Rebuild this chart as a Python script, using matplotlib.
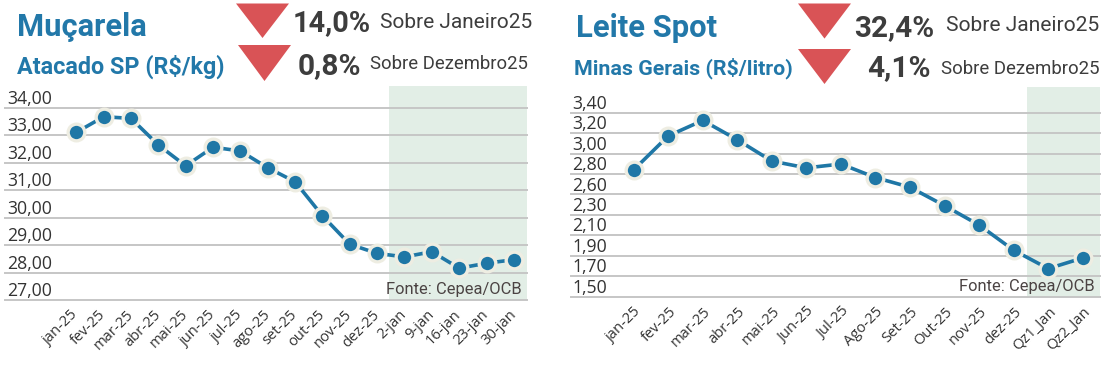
import matplotlib
matplotlib.use("Agg")
import matplotlib.pyplot as plt
from matplotlib.patches import Polygon
from matplotlib.transforms import ScaledTranslation
import numpy as np

# ---------------- data ----------------
muc_labels = ["jan-25", "fev-25", "mar-25", "abr-25", "mai-25", "jun-25", "jul-25",
              "ago-25", "set-25", "out-25", "nov-25", "dez-25",
              "2-jan", "9-jan", "16-jan", "23-jan", "30-jan"]
muc_values = [33.11, 33.68, 33.62, 32.65, 31.89, 32.57, 32.43, 31.82, 31.31,
              30.07, 29.03, 28.70, 28.57, 28.76, 28.16, 28.34, 28.47]
muc_yticks = [27, 28, 29, 30, 31, 32, 33, 34]

leite_labels = ["jan-25", "fev-25", "mar-25", "abr-25", "mai-25", "Jun-25", "Jul-25",
                "Ago-25", "Set-25", "Out-25", "nov-25", "dez-25", "Qz1_Jan", "Qz2_Jan"]
leite_values = [2.81, 3.16, 3.32, 3.12, 2.90, 2.83, 2.87, 2.73, 2.63, 2.44, 2.24,
                1.98, 1.79, 1.90]
leite_ymin, leite_ymax, leite_nticks = 1.5, 3.4, 10

# ---------------- style ----------------
BLUE = "#1f77a6"
TITLE_BLUE = "#2278a9"
RED = "#d95356"
DARK = "#3d3d3d"
SHADE = "#e2eee6"
GRID = "#c6c6c6"
EDGE = "#eeede2"

W, H = 1110, 380
fig = plt.figure(figsize=(W / 100, H / 100), dpi=100)
fig.patch.set_facecolor("white")


def fx(px):
    return px / W


def fy(py):
    return 1 - py / H


def make_axes(l, t, r, b):
    return fig.add_axes([fx(l), fy(b), fx(r - l), (b - t) / H])


def style_axes(ax, labels, values, yticks, ylabels, ylim, xlim, shade_start,
               xlabel_dx=0.0):
    x = np.arange(len(values))
    ax.axvspan(shade_start, xlim[1], color=SHADE, zorder=0.2, lw=0)
    for yv in yticks:
        ax.axhline(yv, color=GRID, lw=1.4, zorder=0.5, clip_on=False)
    ax.plot(x, values, color=BLUE, lw=2.6, marker="o", ms=12,
            mfc=BLUE, mec=EDGE, mew=2.4, zorder=3, clip_on=False)
    ax.set_xlim(*xlim)
    ax.set_ylim(*ylim)
    for s in ax.spines.values():
        s.set_visible(False)
    ax.set_yticks([])
    ax.set_xticks(x)
    ax.set_xticklabels(labels, rotation=45, ha="right", va="center",
                       rotation_mode="anchor", fontsize=10.6,
                       family="Open Sans", color="#333333")
    ax.tick_params(axis="x", length=0, pad=9.0)
    if xlabel_dx:
        off = ScaledTranslation(xlabel_dx / 72, 0, fig.dpi_scale_trans)
        for lbl in ax.get_xticklabels():
            lbl.set_transform(lbl.get_transform() + off)
    for yv, lab in zip(yticks, ylabels):
        ax.annotate(lab, xy=(0, yv), xycoords=ax.get_yaxis_transform(),
                    xytext=(1.3, 2.8), textcoords="offset points",
                    ha="left", va="baseline", fontsize=12.7,
                    family="Open Sans", color="#333333", zorder=4)
    ax.annotate("Fonte: Cepea/OCB", xy=(1, 0), xycoords="axes fraction",
                xytext=(-3.8, 2.0), textcoords="offset points",
                ha="right", va="bottom", fontsize=11.9, family="Roboto",
                color="#4b4343", zorder=4)


# ---------- left chart ----------
axL = make_axes(5.2, 86, 527, 300)
style_axes(axL, muc_labels, muc_values, muc_yticks,
           [f"{v:.2f}".replace(".", ",") for v in muc_yticks],
           (27, 34.8), (-2.6, 16.48), 11.44)

# ---------- right chart ----------
leite_yticks = list(np.linspace(leite_ymin, leite_ymax, leite_nticks))
leite_ylabels = [f"{v:.1f}0".replace(".", ",") for v in leite_yticks]
axR = make_axes(570.5, 87, 1100, 297)
style_axes(axR, leite_labels, leite_values, leite_yticks, leite_ylabels,
           (1.497, 3.665), (-1.83, 13.5), 11.38, xlabel_dx=4.0)

# ---------- headers ----------
def tri(x0, x1, y0, y1):
    pts = [(fx(x0), fy(y0)), (fx(x1), fy(y0)), (fx((x0 + x1) / 2), fy(y1))]
    fig.patches.append(Polygon(pts, closed=True, transform=fig.transFigure,
                               facecolor=RED, edgecolor="none"))


def txt(x, y, s, size, weight="normal", color=DARK, ha="left"):
    fig.text(fx(x), fy(y), s, fontsize=size, fontweight=weight, color=color,
             family="Roboto", ha=ha, va="baseline")


# left header
txt(17, 36, "Muçarela", 22.2, "bold", TITLE_BLUE)
txt(17, 74, "Atacado SP (R$/kg)", 16.8, "bold", TITLE_BLUE)
tri(236, 289, 3.5, 38)
tri(238, 291, 45, 81)
txt(292.7, 31, "14,0%", 20.8, "bold")
txt(380.5, 27.5, "Sobre Janeiro25", 15.0)
txt(297.9, 74, "0,8%", 21.5, "bold")
txt(370.2, 69, "Sobre Dezembro25", 13.3)

# right header
txt(575.8, 36.8, "Leite Spot", 22.3, "bold", TITLE_BLUE)
txt(574, 74.5, "Minas Gerais (R$/litro)", 15.4, "bold", TITLE_BLUE)
tri(798, 851, 3.5, 38.6)
tri(798, 851, 49, 84)
txt(854.6, 35.8, "32,4%", 21.3, "bold")
txt(945.8, 31, "Sobre Janeiro25", 15.1)
txt(866.9, 76.5, "4,1%", 21.5, "bold")
txt(940.6, 73.7, "Sobre Dezembro25", 13.4)

fig.savefig("out.png", dpi=100, facecolor="white")
